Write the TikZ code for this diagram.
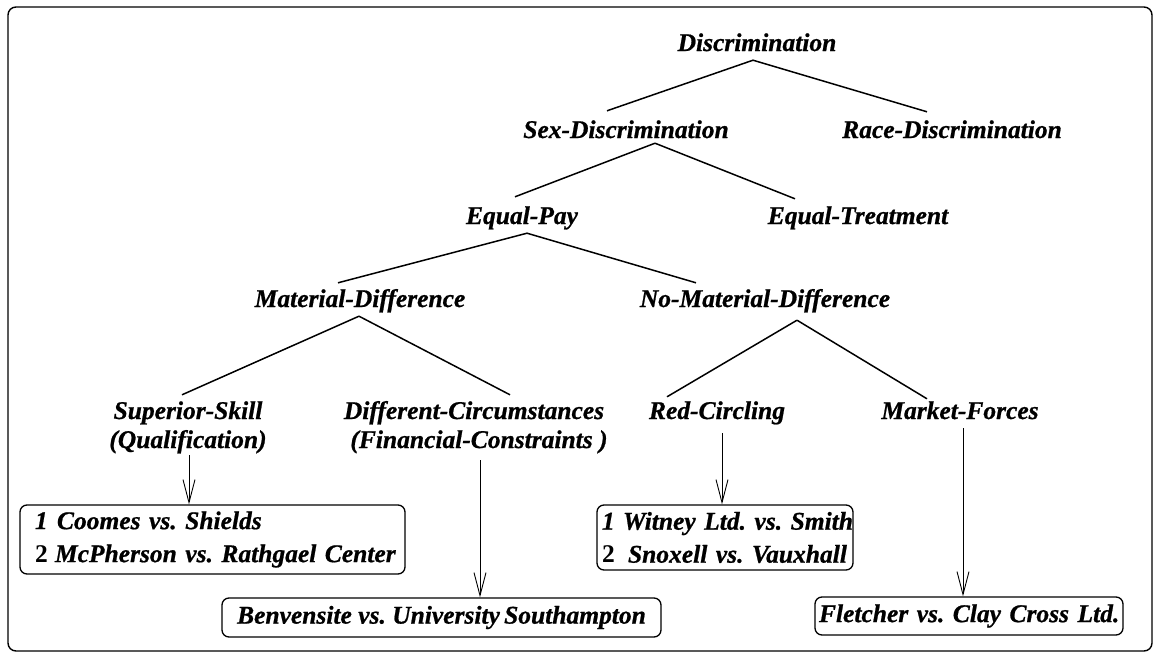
\documentclass[tikz,border=0pt]{standalone}
\usepackage{fontspec}
\setmainfont{Liberation Serif}[BoldItalicFeatures={FakeBold=0.8}]
\usetikzlibrary{arrows.meta}

\tikzset{
  term/.style={font=\fontsize{25.5}{30}\selectfont\bfseries\itshape,
    inner sep=0pt, text height=18pt, text depth=6pt, anchor=center},
  casebox/.style={draw, line width=1.3pt, rounded corners=7pt,
    font=\fontsize{25.5}{33}\selectfont\bfseries\itshape, anchor=center},
  branch/.style={line width=1.5pt},
  pointer/.style={line width=0.9pt, -{Straight Barb[length=23pt,width=12pt]}},
  frame/.style={line width=1.4pt, rounded corners=8pt}
}

\begin{document}
\frenchspacing
\begin{tikzpicture}[x=1pt, y=-1pt]
  \useasboundingbox (0,0) rectangle (1154,653);
  \draw[frame] (8,7) rectangle (1152,651);

  % category terms
  \node[term] (disc)   at (757,45)  {Discrimination};
  \node[term] (sexd)   at (626,132) {Sex-Discrimination};
  \node[term] (race)   at (952,132) {Race-Discrimination};
  \node[term] (eqpay)  at (522,218) {Equal-Pay};
  \node[term] (eqtr)   at (858,218) {Equal-Treatment};
  \node[term] (matd)   at (360,301) {Material-Difference};
  \node[term] (nomat)  at (765,301) {No-Material-Difference};
  \node[term] (sup)    at (188,413) {Superior-Skill};
  \node[term] (qual)   at (188,442) {(Qualification)};
  \node[term] (diff)   at (474,413) {Different-Circumstances};
  \node[term] (fin)    at (479,442) {(Financial-Constraints )};
  \node[term] (red)    at (717,413) {Red-Circling};
  \node[term] (market) at (960,413) {Market-Forces};

  % case boxes
  \node[casebox, text width=355pt, align=left, inner xsep=15pt,
        minimum height=69pt] (cases1) at (212.5,539.5)
    {\mbox{\makebox[22pt][l]{1}Coomes vs. Shields}\\
     \mbox{\makebox[20pt][l]{\upshape 2}McPherson vs. Rathgael Center}};
  \node[casebox, minimum width=439pt, minimum height=39pt, inner xsep=6pt]
    (benv) at (441.5,617.5) {\mbox{Benvensite vs. University\,Southampton}};
  \node[casebox, text width=246pt, align=left, inner xsep=5pt,
        minimum height=65pt] (witney) at (725,537.5)
    {\mbox{\makebox[21pt][l]{1}Witney Ltd. vs. Smith}\\
     \mbox{\makebox[26pt][l]{\upshape 2}Snoxell vs. Vauxhall}};
  \node[casebox, text width=300pt, align=right, inner xsep=4pt,
        minimum height=38pt] (fletch) at (969,616)
    {\mbox{Fletcher vs. Clay Cross Ltd.}};

  % tree branches
  \draw[branch] ([xshift=-4pt,yshift=-3pt]disc.south) -- ([xshift=-19pt,yshift=9pt]sexd.north);
  \draw[branch] ([xshift=-4pt,yshift=-3pt]disc.south) -- ([xshift=-25pt,yshift=8pt]race.north);
  \draw[branch] ([xshift=29pt,yshift=1pt]sexd.south) -- ([xshift=-7pt,yshift=9pt]eqpay.north);
  \draw[branch] ([xshift=29pt,yshift=1pt]sexd.south) -- ([xshift=-63pt,yshift=7pt]eqtr.north);
  \draw[branch] ([xshift=5pt,yshift=-3pt]eqpay.south) -- ([xshift=-22pt,yshift=6pt]matd.north);
  \draw[branch] ([xshift=5pt,yshift=-3pt]eqpay.south) -- ([xshift=-69pt,yshift=6pt]nomat.north);
  \draw[branch] ([xshift=-1pt,yshift=-3pt]matd.south) -- ([xshift=-6pt,yshift=6pt]sup.north);
  \draw[branch] ([xshift=-1pt,yshift=-3pt]matd.south) -- ([xshift=36pt,yshift=6pt]diff.north);
  \draw[branch] ([xshift=32pt,yshift=-7pt]nomat.south) -- ([xshift=-50pt,yshift=4pt]red.north);
  \draw[branch] ([xshift=32pt,yshift=-7pt]nomat.south) -- ([xshift=-33pt,yshift=2pt]market.north);

  % pointers to the cases
  \draw[pointer] ([xshift=1pt,yshift=-1pt]qual.south) -- ([xshift=1pt]qual.south |- cases1.north);
  \draw[pointer] ([xshift=1pt,yshift=-6pt]fin.south) -- ([xshift=1pt]fin.south |- benv.north);
  \draw[pointer] ([xshift=5pt,yshift=-8pt]red.south) -- ([xshift=5pt]red.south |- witney.north);
  \draw[pointer] ([xshift=3pt,yshift=-3pt]market.south) -- ([xshift=3pt]market.south |- fletch.north);
\end{tikzpicture}
\end{document}
